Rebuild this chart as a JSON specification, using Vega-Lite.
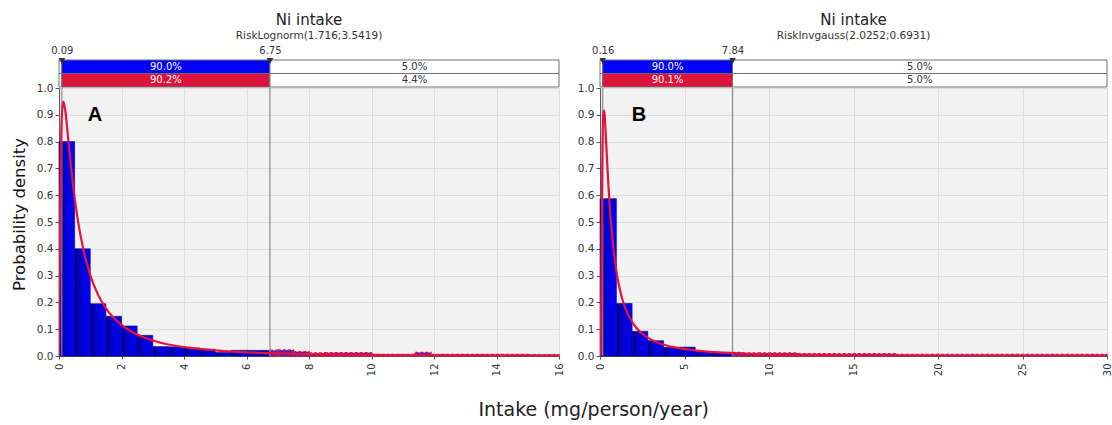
{
  "$schema": "https://vega.github.io/schema/vega-lite/v6.json",
  "background": "white",
  "padding": {"left": 11, "top": 12, "right": 2, "bottom": 6},
  "config": {
    "font": "DejaVu Sans",
    "view": {"stroke": null},
    "axis": {"labelColor": "#333333", "domainColor": "#555555", "tickColor": "#555555", "gridColor": "#dcdcdc", "labelFont": "DejaVu Sans"}
  },
  "title": {"text": "Intake (mg/person/year)", "orient": "bottom", "anchor": "middle", "fontSize": 19, "fontWeight": "normal", "color": "#222222", "offset": 25, "dx": 32},
  "datasets": {
    "stripA": [
      {"series": "Input", "region": "left", "from": 0, "to": 0.09, "pct": "5.0%"},
      {"series": "Input", "region": "middle", "from": 0.09, "to": 6.75, "pct": "90.0%"},
      {"series": "Input", "region": "right", "from": 6.75, "to": 16, "pct": "5.0%"},
      {"series": "Fit", "region": "left", "from": 0, "to": 0.09, "pct": "5.4%"},
      {"series": "Fit", "region": "middle", "from": 0.09, "to": 6.75, "pct": "90.2%"},
      {"series": "Fit", "region": "right", "from": 6.75, "to": 16, "pct": "4.4%"}
    ],
    "stripB": [
      {"series": "Input", "region": "left", "from": 0, "to": 0.16, "pct": "5.0%"},
      {"series": "Input", "region": "middle", "from": 0.16, "to": 7.84, "pct": "90.0%"},
      {"series": "Input", "region": "right", "from": 7.84, "to": 30, "pct": "5.0%"},
      {"series": "Fit", "region": "left", "from": 0, "to": 0.16, "pct": "4.9%"},
      {"series": "Fit", "region": "middle", "from": 0.16, "to": 7.84, "pct": "90.1%"},
      {"series": "Fit", "region": "right", "from": 7.84, "to": 30, "pct": "5.0%"}
    ],
    "markA": [{"x": 0.09}, {"x": 6.75}],
    "markB": [{"x": 0.16}, {"x": 7.84}],
    "labelA": [{"x": 1.15, "y": 0.9, "label": "A"}],
    "labelB": [{"x": 2.3, "y": 0.9, "label": "B"}],
    "histA": [
      {"start": 0, "end": 0.5, "density": 0.8, "part": "body"},
      {"start": 0.5, "end": 1.0, "density": 0.4, "part": "body"},
      {"start": 1.0, "end": 1.5, "density": 0.195, "part": "body"},
      {"start": 1.5, "end": 2.0, "density": 0.148, "part": "body"},
      {"start": 2.0, "end": 2.5, "density": 0.112, "part": "body"},
      {"start": 2.5, "end": 3.0, "density": 0.077, "part": "body"},
      {"start": 3.0, "end": 3.5, "density": 0.035, "part": "body"},
      {"start": 3.5, "end": 4.0, "density": 0.034, "part": "body"},
      {"start": 4.0, "end": 4.5, "density": 0.03, "part": "body"},
      {"start": 4.5, "end": 5.0, "density": 0.025, "part": "body"},
      {"start": 5.0, "end": 5.5, "density": 0.013, "part": "body"},
      {"start": 5.5, "end": 6.0, "density": 0.021, "part": "body"},
      {"start": 6.0, "end": 6.5, "density": 0.021, "part": "body"},
      {"start": 6.5, "end": 6.75, "density": 0.021, "part": "body"},
      {"start": 6.75, "end": 7.0, "density": 0.021, "part": "tail"},
      {"start": 7.0, "end": 7.5, "density": 0.022, "part": "tail"},
      {"start": 7.5, "end": 8.0, "density": 0.016, "part": "tail"},
      {"start": 8.0, "end": 8.5, "density": 0.011, "part": "tail"},
      {"start": 8.5, "end": 10.0, "density": 0.012, "part": "tail"},
      {"start": 10.0, "end": 11.4, "density": 0.006, "part": "tail"},
      {"start": 11.4, "end": 11.9, "density": 0.013, "part": "tail"},
      {"start": 11.9, "end": 15.0, "density": 0.006, "part": "tail"},
      {"start": 15.0, "end": 16.0, "density": 0.005, "part": "tail"}
    ],
    "histB": [
      {"start": 0, "end": 0.97, "density": 0.587, "part": "body"},
      {"start": 0.97, "end": 1.9, "density": 0.196, "part": "body"},
      {"start": 1.9, "end": 2.83, "density": 0.092, "part": "body"},
      {"start": 2.83, "end": 3.76, "density": 0.057, "part": "body"},
      {"start": 3.76, "end": 4.7, "density": 0.032, "part": "body"},
      {"start": 4.7, "end": 5.63, "density": 0.033, "part": "body"},
      {"start": 5.63, "end": 6.56, "density": 0.017, "part": "body"},
      {"start": 6.56, "end": 7.84, "density": 0.014, "part": "body"},
      {"start": 7.84, "end": 8.43, "density": 0.013, "part": "tail"},
      {"start": 8.43, "end": 9.36, "density": 0.011, "part": "tail"},
      {"start": 9.36, "end": 11.7, "density": 0.011, "part": "tail"},
      {"start": 11.7, "end": 17.5, "density": 0.008, "part": "tail"},
      {"start": 17.5, "end": 30, "density": 0.006, "part": "tail"}
    ],
    "fitA": [
      {"x": 0, "y": 0}, {"x": 0.005, "y": 0.032}, {"x": 0.01, "y": 0.114}, {"x": 0.02, "y": 0.298},
      {"x": 0.04, "y": 0.585}, {"x": 0.06, "y": 0.758}, {"x": 0.08, "y": 0.859}, {"x": 0.1, "y": 0.914},
      {"x": 0.14, "y": 0.949}, {"x": 0.2, "y": 0.917}, {"x": 0.3, "y": 0.803}, {"x": 0.4, "y": 0.688},
      {"x": 0.5, "y": 0.59}, {"x": 0.6, "y": 0.509}, {"x": 0.8, "y": 0.387}, {"x": 1.0, "y": 0.302},
      {"x": 1.25, "y": 0.229}, {"x": 1.5, "y": 0.178}, {"x": 2.0, "y": 0.116}, {"x": 2.5, "y": 0.08},
      {"x": 3.0, "y": 0.058}, {"x": 3.5, "y": 0.043}, {"x": 4.0, "y": 0.033}, {"x": 5.0, "y": 0.021},
      {"x": 6.0, "y": 0.014}, {"x": 7.0, "y": 0.0098}, {"x": 8.0, "y": 0.0071}, {"x": 10, "y": 0.0041},
      {"x": 12, "y": 0.0025}, {"x": 14, "y": 0.0017}, {"x": 16, "y": 0.0012}
    ],
    "fitB": [
      {"x": 0, "y": 0}, {"x": 0.02, "y": 0.0}, {"x": 0.04, "y": 0.01}, {"x": 0.06, "y": 0.098},
      {"x": 0.08, "y": 0.27}, {"x": 0.1, "y": 0.458}, {"x": 0.12, "y": 0.62}, {"x": 0.15, "y": 0.788},
      {"x": 0.2, "y": 0.909}, {"x": 0.25, "y": 0.916}, {"x": 0.3, "y": 0.874}, {"x": 0.4, "y": 0.752},
      {"x": 0.5, "y": 0.634}, {"x": 0.6, "y": 0.537}, {"x": 0.8, "y": 0.396}, {"x": 1.0, "y": 0.304},
      {"x": 1.25, "y": 0.228}, {"x": 1.5, "y": 0.178}, {"x": 2.0, "y": 0.117}, {"x": 2.5, "y": 0.083},
      {"x": 3.0, "y": 0.062}, {"x": 4.0, "y": 0.038}, {"x": 5.0, "y": 0.026}, {"x": 6.0, "y": 0.018},
      {"x": 8.0, "y": 0.01}, {"x": 10, "y": 0.0061}, {"x": 12, "y": 0.004}, {"x": 15, "y": 0.0022},
      {"x": 20, "y": 0.00095}, {"x": 25, "y": 0.00045}, {"x": 30, "y": 0.00022}
    ]
  },
  "spacing": 13,
  "hconcat": [
    {
      "spacing": 1,
      "bounds": "flush",
      "vconcat": [
        {
          "width": 500,
          "height": 27,
          "title": {"text": "Ni intake", "subtitle": "RiskLognorm(1.716;3.5419)", "fontSize": 15, "fontWeight": "normal", "color": "#222222", "subtitleFontSize": 10.5, "subtitleColor": "#333333", "subtitlePadding": 3, "anchor": "middle", "offset": 4},
          "view": {"fill": "white", "stroke": null},
          "layer": [
            {
              "data": {"name": "stripA"},
              "mark": {"type": "rect", "stroke": "#6e6e6e", "strokeWidth": 1},
              "encoding": {
                "x": {"field": "from", "type": "quantitative", "scale": {"domain": [0, 16], "nice": false}, "axis": {"orient": "top", "values": [0.09, 6.75], "format": ".2f", "labelFontSize": 10, "ticks": false, "domain": false, "grid": false, "labelPadding": 5, "title": null, "labelFlush": false, "labelOverlap": false}},
                "x2": {"field": "to"},
                "y": {"field": "series", "type": "nominal", "scale": {"domain": ["Input", "Fit"], "paddingInner": 0, "paddingOuter": 0}, "axis": null},
                "fill": {"condition": [{"test": "datum.region === 'middle' && datum.series === 'Input'", "value": "#0000ff"}, {"test": "datum.region === 'middle' && datum.series === 'Fit'", "value": "#dc143c"}], "value": "#ffffff"}
              }
            },
            {
              "data": {"name": "stripA"},
              "transform": [{"filter": "datum.region !== 'left'"}, {"fold": ["from", "to"], "as": ["edge", "pos"]}],
              "mark": {"type": "text", "fontSize": 10, "baseline": "middle", "align": "center"},
              "encoding": {
                "x": {"aggregate": "mean", "field": "pos", "type": "quantitative"},
                "y": {"field": "series", "type": "nominal"},
                "text": {"field": "pct"},
                "detail": {"field": "region"},
                "color": {"condition": {"test": "datum.region === 'middle'", "value": "#ffffff"}, "value": "#333333"}
              }
            },
            {
              "data": {"name": "markA"},
              "mark": {"type": "point", "shape": "triangle-down", "filled": true, "color": "#333333", "size": 45, "opacity": 1},
              "encoding": {"x": {"field": "x", "type": "quantitative"}, "y": {"value": 1}}
            }
          ]
        },
        {
          "width": 500,
          "height": 268,
          "view": {"fill": "#f2f2f2", "stroke": null},
          "encoding": {
            "y": {"type": "quantitative", "scale": {"domain": [0, 1], "nice": false}, "axis": {"values": [0, 0.1, 0.2, 0.3, 0.4, 0.5, 0.6, 0.7, 0.8, 0.9, 1.0], "tickCount": 20, "format": ".1f", "labelFontSize": 10.5, "tickSize": 4, "labelOverlap": false, "title": "Probability density", "titleFontSize": 16.5, "titleFontWeight": "normal", "titleColor": "#111111", "titlePadding": 9, "titleY": 126}}
          },
          "layer": [
            {
              "data": {"name": "histA"},
              "transform": [{"filter": "datum.part === 'body'"}],
              "mark": {"type": "bar", "stroke": "#00007a", "strokeWidth": 0.6, "fill": {"gradient": "linear", "x1": 0, "y1": 0, "x2": 1, "y2": 0, "stops": [{"offset": 0, "color": "#00007e"}, {"offset": 0.3, "color": "#0000c8"}, {"offset": 1, "color": "#0000ff"}]}},
              "encoding": {
                "x": {"field": "start", "type": "quantitative", "scale": {"domain": [0, 16], "nice": false}, "axis": {"values": [0, 2, 4, 6, 8, 10, 12, 14, 16], "tickCount": 20, "labelAngle": -90, "labelFontSize": 10, "tickSize": 3, "title": null, "labelPadding": 4}},
                "x2": {"field": "end"},
                "y": {"field": "density"},
                "y2": {"datum": 0}
              }
            },
            {
              "data": {"name": "histA"},
              "transform": [{"filter": "datum.part === 'tail'"}],
              "mark": {"type": "bar", "fill": "#2a2ad8", "stroke": "#e8103c", "strokeWidth": 1.5, "strokeDash": [3, 2]},
              "encoding": {
                "x": {"field": "start", "type": "quantitative"},
                "x2": {"field": "end"},
                "y": {"field": "density"},
                "y2": {"datum": 0}
              }
            },
            {
              "data": {"name": "markA"},
              "mark": {"type": "rule", "color": "#8a8a8a", "strokeWidth": 1.2},
              "encoding": {"x": {"field": "x", "type": "quantitative"}, "y": {"datum": 0}, "y2": {"datum": 1}}
            },
            {
              "data": {"name": "fitA"},
              "mark": {"type": "line", "color": "#e8103c", "strokeWidth": 2.2, "interpolate": "monotone", "clip": true},
              "encoding": {
                "x": {"field": "x", "type": "quantitative"},
                "y": {"field": "y"}
              }
            },
            {
              "data": {"name": "labelA"},
              "mark": {"type": "text", "fontSize": 20, "fontWeight": "bold", "font": "Liberation Sans", "color": "#000000", "align": "center", "baseline": "middle"},
              "encoding": {"x": {"field": "x", "type": "quantitative"}, "y": {"field": "y"}, "text": {"field": "label"}}
            }
          ]
        }
      ]
    },
    {
      "spacing": 1,
      "bounds": "flush",
      "vconcat": [
        {
          "width": 507,
          "height": 27,
          "title": {"text": "Ni intake", "subtitle": "RiskInvgauss(2.0252;0.6931)", "fontSize": 15, "fontWeight": "normal", "color": "#222222", "subtitleFontSize": 10.5, "subtitleColor": "#333333", "subtitlePadding": 3, "anchor": "middle", "offset": 4},
          "view": {"fill": "white", "stroke": null},
          "layer": [
            {
              "data": {"name": "stripB"},
              "mark": {"type": "rect", "stroke": "#6e6e6e", "strokeWidth": 1},
              "encoding": {
                "x": {"field": "from", "type": "quantitative", "scale": {"domain": [0, 30], "nice": false}, "axis": {"orient": "top", "values": [0.16, 7.84], "format": ".2f", "labelFontSize": 10, "ticks": false, "domain": false, "grid": false, "labelPadding": 5, "title": null, "labelFlush": false, "labelOverlap": false}},
                "x2": {"field": "to"},
                "y": {"field": "series", "type": "nominal", "scale": {"domain": ["Input", "Fit"], "paddingInner": 0, "paddingOuter": 0}, "axis": null},
                "fill": {"condition": [{"test": "datum.region === 'middle' && datum.series === 'Input'", "value": "#0000ff"}, {"test": "datum.region === 'middle' && datum.series === 'Fit'", "value": "#dc143c"}], "value": "#ffffff"}
              }
            },
            {
              "data": {"name": "stripB"},
              "transform": [{"filter": "datum.region !== 'left'"}, {"fold": ["from", "to"], "as": ["edge", "pos"]}],
              "mark": {"type": "text", "fontSize": 10, "baseline": "middle", "align": "center"},
              "encoding": {
                "x": {"aggregate": "mean", "field": "pos", "type": "quantitative"},
                "y": {"field": "series", "type": "nominal"},
                "text": {"field": "pct"},
                "detail": {"field": "region"},
                "color": {"condition": {"test": "datum.region === 'middle'", "value": "#ffffff"}, "value": "#333333"}
              }
            },
            {
              "data": {"name": "markB"},
              "mark": {"type": "point", "shape": "triangle-down", "filled": true, "color": "#333333", "size": 45, "opacity": 1},
              "encoding": {"x": {"field": "x", "type": "quantitative"}, "y": {"value": 1}}
            }
          ]
        },
        {
          "width": 507,
          "height": 268,
          "view": {"fill": "#f2f2f2", "stroke": null},
          "encoding": {
            "y": {"type": "quantitative", "scale": {"domain": [0, 1], "nice": false}, "axis": {"values": [0, 0.1, 0.2, 0.3, 0.4, 0.5, 0.6, 0.7, 0.8, 0.9, 1.0], "tickCount": 20, "format": ".1f", "labelFontSize": 10.5, "tickSize": 4, "labelOverlap": false, "title": null}}
          },
          "layer": [
            {
              "data": {"name": "histB"},
              "transform": [{"filter": "datum.part === 'body'"}],
              "mark": {"type": "bar", "stroke": "#00007a", "strokeWidth": 0.6, "fill": {"gradient": "linear", "x1": 0, "y1": 0, "x2": 1, "y2": 0, "stops": [{"offset": 0, "color": "#00007e"}, {"offset": 0.3, "color": "#0000c8"}, {"offset": 1, "color": "#0000ff"}]}},
              "encoding": {
                "x": {"field": "start", "type": "quantitative", "scale": {"domain": [0, 30], "nice": false}, "axis": {"values": [0, 5, 10, 15, 20, 25, 30], "tickCount": 20, "labelAngle": -90, "labelFontSize": 10, "tickSize": 3, "title": null, "labelPadding": 4}},
                "x2": {"field": "end"},
                "y": {"field": "density"},
                "y2": {"datum": 0}
              }
            },
            {
              "data": {"name": "histB"},
              "transform": [{"filter": "datum.part === 'tail'"}],
              "mark": {"type": "bar", "fill": "#2a2ad8", "stroke": "#e8103c", "strokeWidth": 1.5, "strokeDash": [3, 2]},
              "encoding": {
                "x": {"field": "start", "type": "quantitative"},
                "x2": {"field": "end"},
                "y": {"field": "density"},
                "y2": {"datum": 0}
              }
            },
            {
              "data": {"name": "markB"},
              "mark": {"type": "rule", "color": "#8a8a8a", "strokeWidth": 1.2},
              "encoding": {"x": {"field": "x", "type": "quantitative"}, "y": {"datum": 0}, "y2": {"datum": 1}}
            },
            {
              "data": {"name": "fitB"},
              "mark": {"type": "line", "color": "#e8103c", "strokeWidth": 2.2, "interpolate": "monotone", "clip": true},
              "encoding": {
                "x": {"field": "x", "type": "quantitative"},
                "y": {"field": "y"}
              }
            },
            {
              "data": {"name": "labelB"},
              "mark": {"type": "text", "fontSize": 20, "fontWeight": "bold", "font": "Liberation Sans", "color": "#000000", "align": "center", "baseline": "middle"},
              "encoding": {"x": {"field": "x", "type": "quantitative"}, "y": {"field": "y"}, "text": {"field": "label"}}
            }
          ]
        }
      ]
    }
  ]
}
